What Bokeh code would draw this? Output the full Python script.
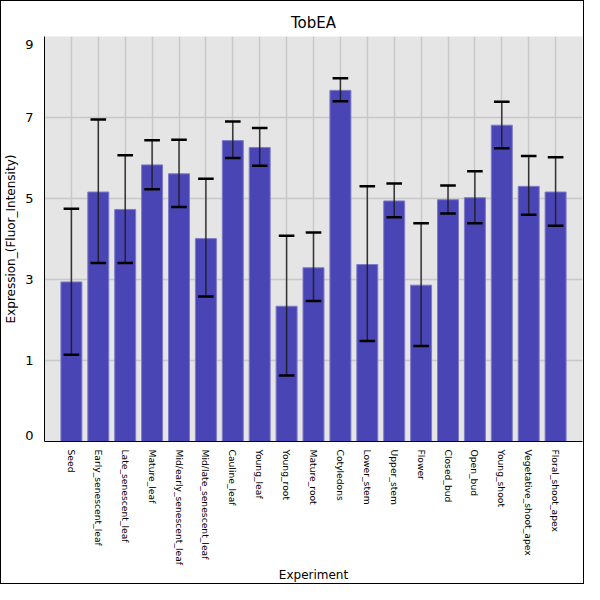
import math
from bokeh.plotting import figure
from bokeh.models import ColumnDataSource, FixedTicker, CustomJSTickFormatter, Range1d
from bokeh.embed import file_html
from bokeh.resources import INLINE

categories = ["Seed", "Early_senescent_leaf", "Late_senescent_leaf", "Mature_leaf",
              "Mid/early_senescent_leaf", "Mid/late_senescent_leaf", "Cauline_leaf",
              "Young_leaf", "Young_root", "Mature_root", "Cotyledons", "Lower_stem",
              "Upper_stem", "Flower", "Closed_bud", "Open_bud", "Young_shoot",
              "Vegetative_shoot_apex", "Floral_shoot_apex"]
means = [2.94, 5.16, 4.73, 5.83, 5.61, 4.01, 6.43, 6.26, 2.34, 3.29, 7.67, 3.37,
         4.94, 2.86, 4.97, 5.02, 6.81, 5.30, 5.16]
upper = [4.75, 6.95, 6.07, 6.44, 6.45, 5.49, 6.90, 6.74, 4.08, 4.16, 7.97, 5.30,
         5.37, 4.39, 5.32, 5.67, 7.39, 6.05, 6.02]
lower = [1.14, 3.41, 3.41, 5.23, 4.79, 2.58, 6.00, 5.81, 0.63, 2.47, 7.40, 1.48,
         4.54, 1.36, 4.63, 4.39, 6.24, 4.60, 4.33]

y_min, y_max = -1.0, 9.0
grid_ticks = [1, 3, 5, 7]

n = len(categories)
xs = list(range(n))
cap = 0.29
src = ColumnDataSource(dict(
    x=xs, top=means, bottom=[y_min] * n, up=upper, lo=lower,
    xl=[x - cap for x in xs], xr=[x + cap for x in xs],
))

p = figure(width=584, height=584, output_backend="svg", toolbar_location=None,
           title="TobEA", x_range=Range1d(-1, n), y_range=Range1d(y_min, y_max),
           min_border_left=40, min_border_right=3, min_border_top=35,
           min_border_bottom=132)
p.styles = {"border": "1px solid black"}

p.background_fill_color = "#e5e5e5"
p.border_fill_color = "white"
p.outline_line_color = None

p.title.align = "center"
p.title.text_font = "DejaVu Sans"
p.title.text_font_size = "15px"
p.title.text_font_style = "normal"
p.title.text_color = "black"

p.vbar(x="x", top="top", bottom="bottom", width=0.78, source=src,
       fill_color="#4a45b4", line_color="#7f7bcb", line_width=1)
p.segment(x0="x", y0="lo", x1="x", y1="up", source=src,
          line_color="#1a1a1a", line_alpha=0.85, line_width=1.5)
p.segment(x0="xl", y0="up", x1="xr", y1="up", source=src,
          line_color="black", line_width=2.5)
p.segment(x0="xl", y0="lo", x1="xr", y1="lo", source=src,
          line_color="black", line_width=2.5)

# x axis
p.xaxis.ticker = FixedTicker(ticks=xs)
p.xaxis.major_label_overrides = {i: c for i, c in enumerate(categories)}
p.xaxis.major_label_orientation = -math.pi / 2
p.xaxis.major_label_text_font = "DejaVu Sans"
p.xaxis.major_label_text_font_size = "9.2px"
p.xaxis.major_label_text_color = "black"
p.xaxis.major_label_standoff = 2
p.xaxis.axis_label = "Experiment"
p.xaxis.axis_label_standoff = 0

# y axis: labels at the range ends plus odd grid ticks
p.yaxis.ticker = FixedTicker(ticks=[y_min + 0.16] + grid_ticks + [y_max - 0.2])
p.yaxis.formatter = CustomJSTickFormatter(
    code="return tick < 0 ? '0' : (tick > 8 ? '9' : tick.toFixed(0));")
p.yaxis.major_label_text_font = "DejaVu Sans"
p.yaxis.major_label_text_font_size = "13px"
p.yaxis.major_label_text_color = "black"
p.yaxis.major_label_standoff = 5
p.yaxis.axis_label = "Expression_(Fluor_Intensity)"
p.yaxis.axis_label_standoff = 4

for ax in (p.xaxis, p.yaxis):
    ax.axis_label_text_font = "DejaVu Sans"
    ax.axis_label_text_font_size = "12px"
    ax.axis_label_text_font_style = "normal"
    ax.axis_label_text_color = "black"
    ax.major_tick_line_color = None
    ax.minor_tick_line_color = None
    ax.axis_line_color = "black"
    ax.axis_line_width = 1

p.xgrid.ticker = FixedTicker(ticks=xs)
p.ygrid.ticker = FixedTicker(ticks=grid_ticks)
p.grid.grid_line_color = "#c8c8c8"
p.grid.grid_line_width = 1.5

open("out.html", "w").write(file_html(p, INLINE))
